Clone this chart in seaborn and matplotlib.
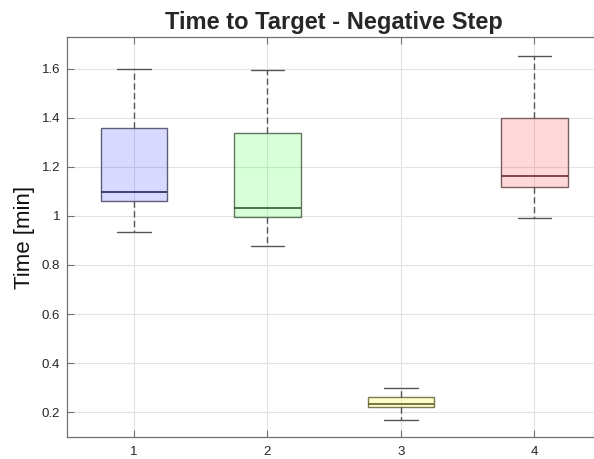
import numpy as np
import pandas as pd
import matplotlib
matplotlib.use("Agg")
import matplotlib.pyplot as plt
from matplotlib.ticker import FuncFormatter
import seaborn as sns

groups = ["1", "2", "3", "4"]
lower_whisker = [0.933, 0.876, 0.168, 0.992]
q1 = [1.060, 0.994, 0.221, 1.119]
median = [1.099, 1.031, 0.232, 1.162]
q3 = [1.358, 1.338, 0.262, 1.401]
upper_whisker = [1.598, 1.593, 0.299, 1.653]

fill_colors = [(0, 0, 1, 0.15), (0, 1, 0, 0.15), (1, 1, 0, 0.2), (1, 0, 0, 0.15)]
edge_colors = ["#5e5e7a", "#5e7a5e", "#7a7a55", "#7a5e5e"]
median_colors = ["#25255a", "#2e5e2e", "#5e5e2a", "#6a2e2e"]

rows = []
for g, a, b, c, d, e in zip(groups, lower_whisker, q1, median, q3, upper_whisker):
    for v in (a, b, c, d, e):
        rows.append({"group": g, "time": v})
df = pd.DataFrame(rows)

sns.set_style("white")
plt.rcParams["font.family"] = ["Liberation Sans", "DejaVu Sans"]

fig = plt.figure(figsize=(5.94, 4.59), dpi=100)
ax = fig.add_axes([67.3 / 594, 1 - 436.7 / 459, (601 - 67.3) / 594, (436.7 - 37.3) / 459])

sns.boxplot(data=df, x="group", y="time", hue="group", palette=["white"] * 4,
            legend=False, width=0.5, whis=(0, 100), ax=ax, order=groups,
            linecolor="#555555", linewidth=1.0,
            whiskerprops=dict(linestyle=(0, (4.5, 2.5)), color="#555555"),
            capprops=dict(color="#555555"),
            showfliers=False)

for i, cont in enumerate(ax.containers):
    for box in cont.boxes:
        box.set_facecolor(fill_colors[i])
        box.set_edgecolor(edge_colors[i])
    for m in cont.medians:
        m.set_color(median_colors[i])
        m.set_linewidth(1.2)

ax.set_axisbelow(True)
ax.xaxis.grid(True, color="#e3e3e3", linewidth=0.8)
ax.yaxis.grid(True, color="#e3e3e3", linewidth=0.8)

ax.set_xlim(-0.5, 3.5)
ax.set_ylim(0.1, 1.728)
ax.set_yticks([0.2, 0.4, 0.6, 0.8, 1.0, 1.2, 1.4, 1.6])
ax.yaxis.set_major_formatter(FuncFormatter(lambda v, p: f"{v:g}"))
ax.set_xticks(range(4))
ax.set_xticklabels(groups)

for s in ax.spines.values():
    s.set_visible(True)
    s.set_color("#707070")
    s.set_linewidth(0.9)

ax.tick_params(axis="both", direction="in", length=5, width=0.8, color="#707070",
               labelsize=9.5, labelcolor="#262626", bottom=True, left=True,
               top=True, right=True, pad=5)
ax.tick_params(axis="x", pad=7)

ax.set_xlabel("")
ax.set_ylabel("Time [min]", fontsize=16, color="#111111", labelpad=5)
ax.set_title("Time to Target - Negative Step", fontsize=17, fontweight="bold", pad=6)

fig.savefig("out.png", dpi=100)
